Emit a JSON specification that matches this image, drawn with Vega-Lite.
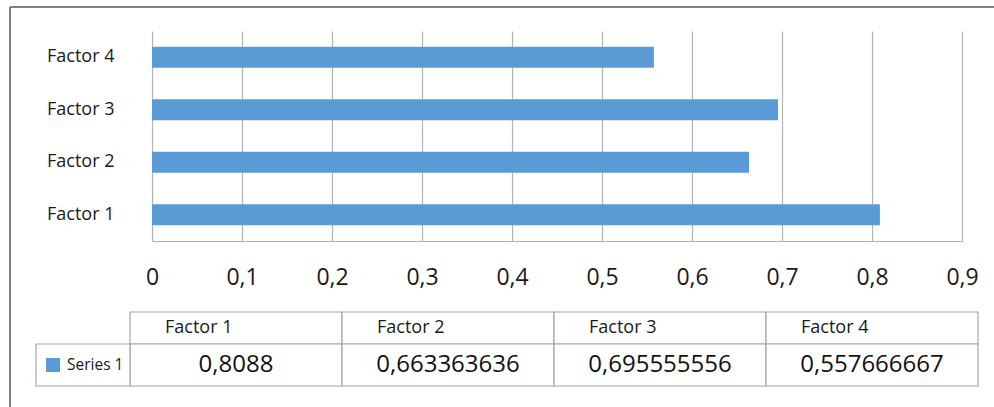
{
  "$schema": "https://vega.github.io/schema/vega-lite/v6.json",
  "width": 984,
  "height": 400,
  "autosize": "none",
  "padding": {"left": 10, "top": 7, "right": 0, "bottom": 0},
  "background": "white",
  "config": {
    "font": "Open Sans",
    "locale": {"number": {"decimal": ",", "thousands": ".", "grouping": [3], "currency": ["", " €"]}},
    "view": {"stroke": "#595959", "strokeWidth": 1.5, "strokeDash": [984, 1384, 400, 0]}
  },
  "datasets": {
    "factors": [
      {"factor": "Factor 1", "value": 0.8088},
      {"factor": "Factor 2", "value": 0.663363636},
      {"factor": "Factor 3", "value": 0.695555556},
      {"factor": "Factor 4", "value": 0.557666667}
    ],
    "series": [{"series": "Series 1"}]
  },
  "layer": [
    {
      "data": {"name": "factors"},
      "mark": {"type": "bar", "color": "#5b9bd5"},
      "encoding": {
        "y": {
          "field": "factor",
          "type": "nominal",
          "sort": "descending",
          "scale": {"range": [24, 234], "paddingInner": 0.6, "paddingOuter": 0.3},
          "axis": {
            "title": null,
            "offset": -142,
            "domain": false,
            "ticks": false,
            "grid": false,
            "labelFontSize": 18,
            "labelColor": "#1a1a1a",
            "labelPadding": 38
          }
        },
        "x": {
          "field": "value",
          "type": "quantitative",
          "scale": {"domain": [0, 0.9], "range": [142, 952], "nice": false},
          "axis": {
            "title": null,
            "orient": "top",
            "offset": -234,
            "values": [0, 0.1, 0.2, 0.3, 0.4, 0.5, 0.6, 0.7, 0.8, 0.9],
            "format": ".1~f",
            "grid": true,
            "gridColor": "#b3b3b3",
            "gridWidth": 1.2,
            "domain": true,
            "domainColor": "#b3b3b3",
            "domainWidth": 1.2,
            "ticks": false,
            "tickSize": 0,
            "labelFontSize": 23,
            "labelColor": "#1a1a1a",
            "labelBaseline": "top",
            "labelPadding": -25.5,
            "labelFlush": false,
            "labelOverlap": false
          }
        }
      }
    },
    {
      "data": {"name": "factors"},
      "encoding": {
        "x": {
          "field": "factor",
          "type": "nominal",
          "sort": "ascending",
          "scale": {"range": [120, 968], "paddingInner": 0, "paddingOuter": 0},
          "axis": null
        }
      },
      "layer": [
        {
          "mark": {"type": "rect", "fill": "white", "stroke": "#a6a6a6", "strokeWidth": 1.2},
          "encoding": {
            "y": {"datum": "header", "type": "nominal", "scale": {"range": [305, 337], "paddingInner": 0, "paddingOuter": 0}, "axis": null}
          }
        },
        {
          "mark": {"type": "text", "align": "left", "baseline": "middle", "dx": -71, "fontSize": 18, "color": "#1a1a1a"},
          "encoding": {
            "y": {"datum": "header", "type": "nominal", "scale": {"range": [305, 337], "paddingInner": 0, "paddingOuter": 0}, "axis": null},
            "text": {"field": "factor"}
          }
        },
        {
          "mark": {"type": "rect", "fill": "white", "stroke": "#a6a6a6", "strokeWidth": 1.2},
          "encoding": {
            "y": {"datum": "value", "type": "nominal", "scale": {"range": [337, 379], "paddingInner": 0, "paddingOuter": 0}, "axis": null}
          }
        },
        {
          "mark": {"type": "text", "align": "center", "baseline": "middle", "fontSize": 24, "color": "#111111"},
          "encoding": {
            "y": {"datum": "value", "type": "nominal", "scale": {"range": [337, 379], "paddingInner": 0, "paddingOuter": 0}, "axis": null},
            "text": {"field": "value", "type": "quantitative", "format": ".9~g"}
          }
        }
      ],
      "resolve": {"scale": {"y": "independent"}}
    },
    {
      "data": {"name": "series"},
      "encoding": {
        "x": {"field": "series", "type": "nominal", "scale": {"range": [26, 120], "paddingInner": 0, "paddingOuter": 0}, "axis": null},
        "y": {"field": "series", "type": "nominal", "scale": {"range": [337, 379], "paddingInner": 0, "paddingOuter": 0}, "axis": null}
      },
      "layer": [
        {"mark": {"type": "rect", "fill": "white", "stroke": "#a6a6a6", "strokeWidth": 1.2}},
        {"mark": {"type": "square", "size": 196, "filled": true, "opacity": 1, "color": "#5b9bd5", "xOffset": -30}},
        {
          "mark": {"type": "text", "align": "left", "baseline": "middle", "dx": -16, "fontSize": 15.5, "color": "#1a1a1a"},
          "encoding": {"text": {"field": "series"}}
        }
      ]
    }
  ],
  "resolve": {"scale": {"x": "independent", "y": "independent"}}
}
